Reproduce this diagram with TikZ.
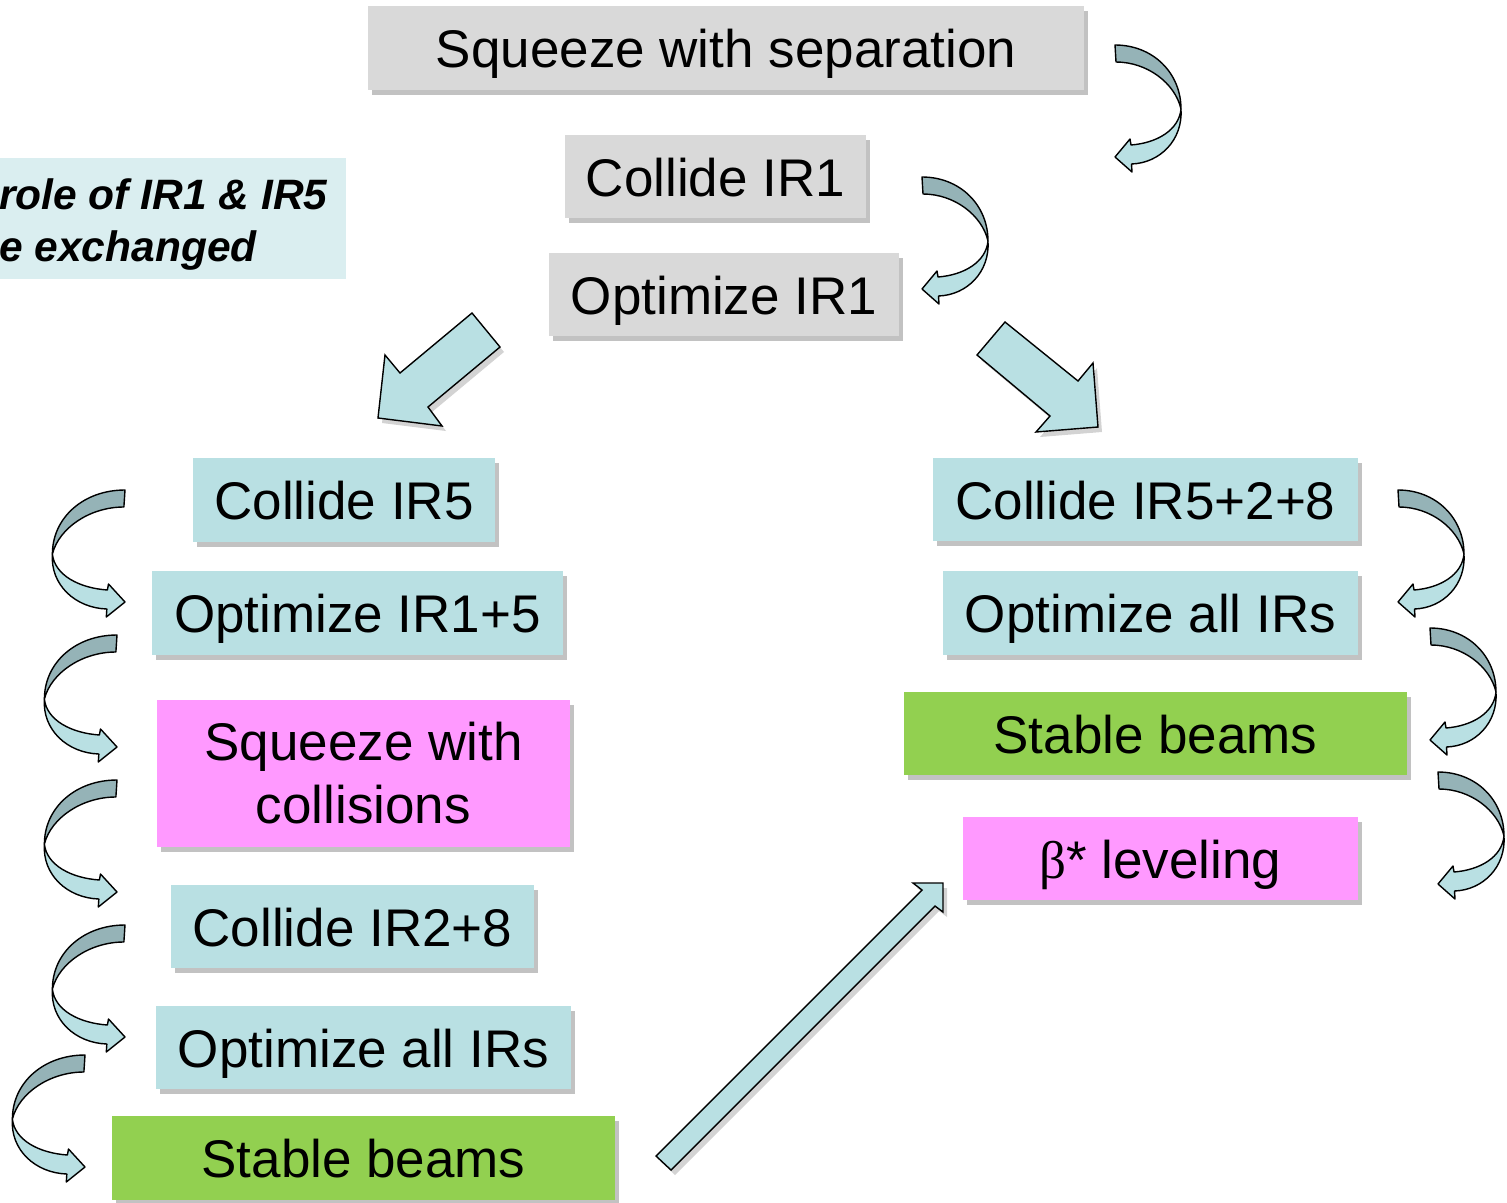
\documentclass[tikz,border=0pt]{standalone}
\usepackage{fontspec}
\setmainfont{Liberation Sans}
\newfontfamily\greekfont{Liberation Serif}
\usetikzlibrary{shadows,positioning}

\definecolor{stepgray}{HTML}{D9D9D9}
\definecolor{stepaqua}{HTML}{B9E0E3}
\definecolor{notebg}{HTML}{DAEEF0}
\definecolor{steppink}{HTML}{FF99FF}
\definecolor{stepgreen}{HTML}{92D050}
\definecolor{arrowdark}{HTML}{95B3B7}

% curled step arrow, tail top at (#1,#2); #3 > 0 bends right, #3 < 0 bends left
\newcommand\curlarrow[3]{%
  \begin{scope}[shift={(#1,#2)},xscale=#3,line width=1.4pt,line join=round,
      drop shadow={shadow xshift=#3*3pt,shadow yshift=-4pt,fill=black!50,opacity=.35}]
    \filldraw[fill=arrowdark] (0,0) .. controls (38,0) and (66,28) .. (66,64)
      .. controls (60,38) and (32,17) .. (1,17) -- cycle;
    \filldraw[fill=stepaqua] (66,64) .. controls (68,95) and (45,118) .. (16.5,119)
      -- (17,127) -- (0,112) -- (15,94) -- (16,100)
      .. controls (42,98) and (64,85) .. (66,64) -- cycle;
  \end{scope}}

\begin{document}
\begin{tikzpicture}[x=1pt,y=-1pt,
   stepbox/.style={inner sep=0pt,font=\fontsize{53}{63}\selectfont,align=center,
     drop shadow={shadow xshift=4pt,shadow yshift=-5pt,fill=black!60,opacity=.4}},
   oneline/.style={text height=39pt,text depth=0pt},
   blockarrow/.style={fill=stepaqua,draw=black,line width=1.4pt,line join=miter,
     drop shadow={shadow xshift=4pt,shadow yshift=-5pt,fill=black!50,opacity=.35}}]
  \useasboundingbox (0,0) rectangle (1507,1202);

  % common start
  \node[stepbox,oneline,fill=stepgray,minimum width=716pt,minimum height=84pt] (sep) at (726,48) {Squeeze with separation};
  \node[stepbox,oneline,fill=stepgray,minimum width=301pt,minimum height=83pt] (col1) at (715.5,176.5) {Collide IR1};
  \node[stepbox,oneline,fill=stepgray,minimum width=350pt,minimum height=83pt] (opt1) at (724,294.5) {Optimize IR1};

  \node[fill=notebg,inner sep=0pt,minimum width=346pt,minimum height=121pt] (note) at (173,218.5) {};
  \node[anchor=west,inner sep=0pt,align=left,font=\fontsize{42.5}{52}\selectfont\bfseries\itshape]
     (notetext) at (-1,225) {role of IR1 \& IR5\\e exchanged};

  % left branch
  \node[stepbox,oneline,fill=stepaqua,minimum width=302pt,minimum height=84pt] (col5) at (344,500) {Collide IR5};
  \node[stepbox,oneline,fill=stepaqua,minimum width=411pt,minimum height=84pt] (opt15) at (357.5,613) {Optimize IR1+5};
  \node[stepbox,fill=steppink,minimum width=413pt,minimum height=147pt] (sqcol) at (363.5,773.5) {Squeeze with\\collisions};
  \node[stepbox,oneline,fill=stepaqua,minimum width=363pt,minimum height=83pt] (col28) at (352.5,926.5) {Collide IR2+8};
  \node[stepbox,oneline,fill=stepaqua,minimum width=415pt,minimum height=83pt] (optallL) at (363.5,1047.5) {Optimize all IRs};
  \node[stepbox,oneline,fill=stepgreen,minimum width=503pt,minimum height=84pt] (stableL) at (363.5,1158) {Stable beams};

  % right branch
  \node[stepbox,oneline,fill=stepaqua,minimum width=425pt,minimum height=83pt] (col528) at (1145.5,499.5) {Collide IR5+2+8};
  \node[stepbox,oneline,fill=stepaqua,minimum width=415pt,minimum height=84pt] (optallR) at (1150.5,613) {Optimize all IRs};
  \node[stepbox,oneline,fill=stepgreen,minimum width=503pt,minimum height=83pt] (stableR) at (1155.5,733.5) {Stable beams};
  \node[stepbox,oneline,fill=steppink,minimum width=395pt,minimum height=83pt] (level) at (1160.5,858.5) {{\greekfont β}* leveling};

  % block arrows
  \filldraw[blockarrow] (472,313) -- (500,347) -- (428,407) -- (442,426) -- (378,418) -- (385,355) -- (400,373) -- cycle;
  \filldraw[blockarrow] (1005,322) -- (977,355) -- (1050,416) -- (1036,432) -- (1098,427) -- (1093,363) -- (1078,381) -- cycle;
  \filldraw[blockarrow] (656,1156) -- (922,890) -- (913,883) -- (943,883) -- (943,912) -- (935,906) -- (671,1170) -- cycle;

  % curled arrows between steps
  \curlarrow{1115}{45}{1}
  \curlarrow{922}{177}{1}
  \curlarrow{1398}{490}{1}
  \curlarrow{1430}{628}{1}
  \curlarrow{1438}{772}{1}
  \curlarrow{125}{490}{-1.1}
  \curlarrow{117}{635}{-1.1}
  \curlarrow{117}{780}{-1.1}
  \curlarrow{125}{925}{-1.1}
  \curlarrow{85}{1055}{-1.1}
\end{tikzpicture}
\end{document}
